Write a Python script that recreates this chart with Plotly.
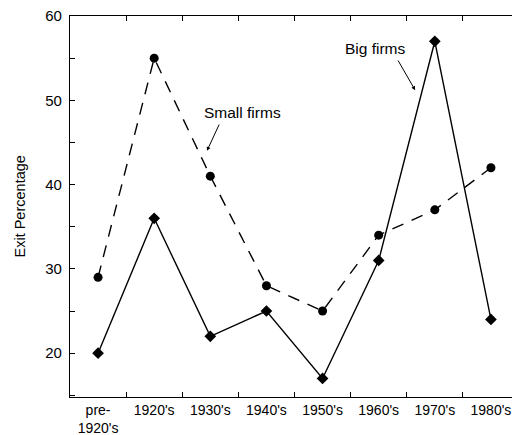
import plotly.graph_objects as go

categories = ["pre-<br>1920's", "1920's", "1930's", "1940's", "1950's", "1960's", "1970's", "1980's"]
small_firms = [29, 55, 41, 28, 25, 34, 37, 42]
big_firms = [20, 36, 22, 25, 17, 31, 57, 24]

FONT = "Liberation Sans, Arial, Helvetica, sans-serif"

# page body has an 8px margin: shrink the figure so the plot lands where the reference has it
W, H = 512, 427
ML, MR, MT, MB = 62, 1, 8, 38

fig = go.Figure()
fig.add_trace(go.Scatter(
    x=categories, y=small_firms, mode="lines+markers", name="Small firms",
    line=dict(color="black", width=1.4, dash="12px,9px"),
    marker=dict(symbol="circle", size=9, color="black"),
))
fig.add_trace(go.Scatter(
    x=categories, y=big_firms, mode="lines+markers", name="Big firms",
    line=dict(color="black", width=1.4),
    marker=dict(symbol="diamond", size=9, color="black"),
))

fig.add_annotation(x=1.94, y=44.0, ax=2.17, ay=47.3, xref="x", yref="y",
                   axref="x", ayref="y", text="", showarrow=True,
                   arrowhead=2, arrowsize=0.8, arrowwidth=1, arrowcolor="black")
fig.add_annotation(x=2.58, y=48.6, xref="x", yref="y", text="Small firms",
                   showarrow=False, font=dict(size=15.5, color="black", family=FONT))
fig.add_annotation(x=5.65, y=51.2, ax=5.33, ay=54.9, xref="x", yref="y",
                   axref="x", ayref="y", text="", showarrow=True,
                   arrowhead=2, arrowsize=0.8, arrowwidth=1, arrowcolor="black")
fig.add_annotation(x=4.94, y=56.1, xref="x", yref="y", text="Big firms",
                   showarrow=False, font=dict(size=15.5, color="black", family=FONT))

plot_w = W - ML - MR
fig.add_annotation(x=(11 - ML) / plot_w, y=0.5, xref="paper", yref="paper",
                   text="Exit Percentage", textangle=-90, showarrow=False,
                   xanchor="center", yanchor="middle",
                   font=dict(size=14.5, color="black", family=FONT))

fig.update_layout(
    width=W, height=H,
    margin=dict(l=ML, r=MR, t=MT, b=MB, autoexpand=False),
    paper_bgcolor="white", plot_bgcolor="white",
    showlegend=False,
    font=dict(family=FONT, size=15, color="black"),
)
fig.update_xaxes(
    type="category", range=[-0.5, 7.5], showgrid=False, zeroline=False,
    showline=True, linecolor="black", linewidth=1.2, mirror="ticks",
    ticks="inside", tickson="boundaries", ticklen=5, tickcolor="black",
    tickfont=dict(size=14, family=FONT), ticklabeloverflow="allow",
    ticklabelstandoff=0,
)
fig.update_yaxes(
    range=[14.8, 60], showgrid=False, zeroline=False,
    showline=True, linecolor="black", linewidth=1.2, mirror="ticks",
    ticks="inside", ticklen=5, tickcolor="black", dtick=10, tick0=0,
    minor=dict(dtick=5, tick0=0, ticks="inside", ticklen=5, tickcolor="black"),
    tickfont=dict(size=15, family=FONT), ticklabelstandoff=4,
    ticklabeloverflow="allow",
)

fig.write_html("out.html")
